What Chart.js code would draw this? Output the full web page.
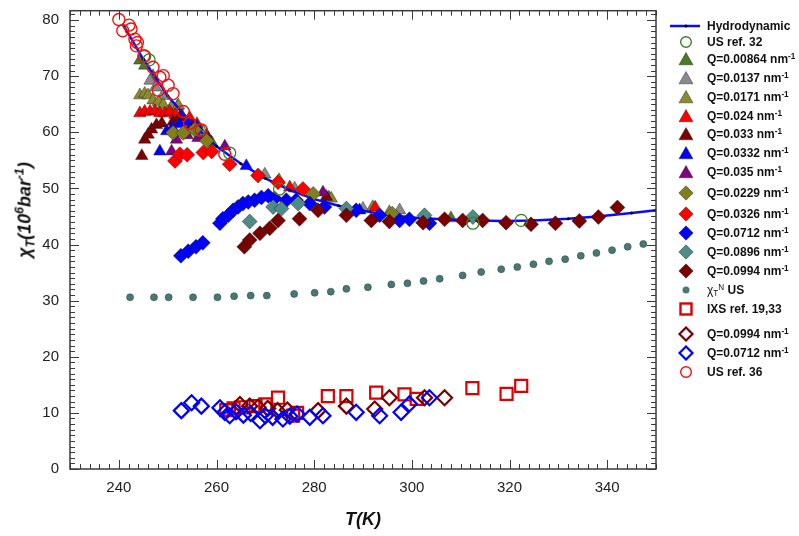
<!DOCTYPE html>
<html>
<head>
<meta charset="utf-8">
<script src="https://cdn.jsdelivr.net/npm/chart.js@4.4.1/dist/chart.umd.min.js"></script>
<style>
  html, body { margin: 0; padding: 0; background: #fff; }
  #wrap { position: relative; width: 799px; height: 536px; font-family: "Liberation Sans", Arial, sans-serif; }
  #yTitle { position: absolute; left: 25px; top: 210px; transform: translate(-50%, -50%) rotate(-90deg);
    font: bold italic 18px "Liberation Sans", Arial, sans-serif; white-space: nowrap; color: #111; }
  #yTitle sup, .lg sup { font-size: 68%; vertical-align: 0.55em; line-height: 0; }
  #yTitle sub, .lg sub { font-size: 68%; vertical-align: -0.3em; line-height: 0; }
  .lg { position: absolute; left: 670px; height: 16px; margin-top: -8px; display: flex; align-items: center;
    font: bold 12px "Liberation Sans", Arial, sans-serif; color: #111; white-space: nowrap; }
  .lg svg { width: 34px; height: 16px; flex: none; margin-right: 3px; }
</style>
</head>
<body>
<div id="wrap">
  <canvas id="c" width="799" height="536"></canvas>
  <div id="yTitle">&chi;<sub>T</sub>(10<sup>6</sup>bar<sup>-1</sup>)</div>
  <div id="legend"></div>
</div>
<script>
// ---- data (T in K, chi_T in 1e6 bar^-1) ----
var xTicks = [240, 260, 280, 300, 320, 340];
var yTicks = [0, 10, 20, 30, 40, 50, 60, 70, 80];

var hydrodynamic = [[241,79.0],[245,73.0],[250,66.5],[255,61.5],[260,57.5],[265,54.4],[270,51.8],[275,49.7],
  [280,48.1],[285,46.9],[290,46.0],[295,45.3],[300,44.8],[306,44.5],[312,44.3],[319,44.2],[325,44.3],
  [332,44.6],[338,45.0],[345,45.6],[350,46.1]];
var usRef32 = [[245.3,73.6],[246.2,72.9],[256.5,60.4],[262.7,56.3],[272.9,49.9],[312.5,43.8],[322.4,44.3]];
var q00864 = [[244.3,72.8],[245.3,71.9],[247.0,70.0],[252.0,64.6],[259.0,58.2],[283.0,48.4],[308.0,44.7]];
var q0137 = [[246.4,69.2],[247.5,68.0],[249.0,66.5],[253.0,62.8],[257.0,59.8],[269.9,52.5],[276.0,50.0],[290.0,46.4],[297.5,46.1]];
var q0171 = [[244.3,66.6],[245.3,66.9],[246.0,66.6],[247.0,65.7],[248.1,65.4],[249.1,64.9],[250.8,64.6],[252.2,64.8],
  [272.8,51.5],[283.5,48.2],[292.0,46.7],[295.4,45.8]];
var q024 = [[244.3,63.4],[245.3,63.7],[246.4,63.7],[247.4,63.8],[248.4,63.4],[249.4,63.4],[250.4,63.7],[251.5,63.1],
  [253.0,62.7],[254.5,62.6],[256.0,61.5],[275.0,50.2],[292.5,46.6]];
var q033 = [[244.7,55.8],[245.3,58.7],[246.0,59.6],[246.7,60.5],[247.7,61.3],[248.8,61.6],[251.1,61.9],[252.5,62.8],
  [255.0,61.4],[258.0,59.5],[282.5,48.5]];
var q0332 = [[248.4,56.6],[249.8,60.2],[251.0,60.8],[252.5,61.5],[254.0,61.8],[256.0,61.0],[266.1,54.0],[289.3,46.1],[296.0,45.0]];
var q035 = [[250.8,56.6],[251.8,58.7],[254.0,59.5],[256.2,59.0],[258.0,59.0],[261.7,57.5],[281.8,49.3]];
var q0229 = [[251.1,59.9],[253.2,59.9],[255.5,60.5],[258.0,58.5],[279.8,49.0],[296.0,45.5]];
var q0326 = [[251.5,54.9],[252.5,56.1],[254.0,56.0],[257.3,56.4],[259.0,56.6],[262.7,54.3],[268.5,52.3],[272.6,51.1],[277.7,49.9]];
var q0712 = [[252.7,38.0],[254.2,38.8],[255.8,39.6],[257.2,40.3],[260.7,43.8],[261.3,44.6],[262.4,45.2],[263.4,46.1],
  [264.4,46.7],[265.4,47.3],[266.5,47.6],[267.8,47.9],[269.2,48.4],[270.6,48.7],[271.9,48.2],[274.3,47.9],[276.3,47.9],
  [279.1,47.3],[282.1,46.7],[288.6,46.1],[293.4,45.2],[297.5,44.3],[299.5,44.5],[303.6,43.8]];
var q0896 = [[266.8,44.1],[271.6,46.7],[273.3,46.4],[276.7,47.3],[286.6,46.4],[302.6,45.2],[312.5,44.9]];
var q0994 = [[265.7,39.6],[266.8,40.8],[268.9,42.0],[270.9,42.9],[272.6,44.3],[277.0,44.6],[280.8,46.1],[286.6,45.2],
  [291.7,44.3],[295.4,44.1],[302.3,43.9],[306.7,44.5],[310.4,44.3],[314.5,44.3],[319.3,43.9],[324.4,43.6],[329.4,43.8],
  [334.3,44.2],[338.2,44.9],[342.1,46.6]];
var chiN = [[242.3,30.6],[247.2,30.6],[250.2,30.6],[255.2,30.6],[260.2,30.6],[263.6,30.8],[267.0,30.9],[270.3,30.9],
  [275.9,31.2],[280.1,31.4],[283.4,31.6],[286.6,32.1],[291.0,32.4],[295.8,32.9],[299.1,33.1],[302.4,33.5],[305.7,33.9],
  [310.4,34.5],[314.2,35.1],[318.3,35.6],[321.6,36.0],[324.9,36.5],[328.1,37.0],[331.4,37.4],[334.6,38.0],[337.8,38.5],
  [341.0,39.0],[344.2,39.6],[347.4,40.1]];
var ixs = [[262.0,10.5],[263.5,10.8],[265.0,11.0],[268.0,11.2],[270.0,11.5],[272.6,12.7],[275.7,9.5],[276.5,10.0],
  [282.8,13.0],[286.6,13.0],[292.7,13.6],[298.5,13.3],[301.0,12.5],[312.4,14.4],[319.4,13.4],[322.4,14.8]];
var q0994open = [[264.8,11.5],[266.8,11.2],[268.5,11.0],[270.5,10.8],[272.5,10.4],[274.5,10.5],[280.8,10.4],[286.6,11.2],
  [292.4,10.7],[295.4,12.7],[302.6,12.7],[306.7,12.7]];
var q0712open = [[252.8,10.4],[254.9,11.8],[256.9,11.2],[260.7,10.9],[261.7,10.1],[262.7,9.5],[264.0,10.2],[265.5,9.6],
  [267.0,9.9],[268.9,8.6],[270.0,9.5],[271.5,9.2],[273.6,8.9],[275.0,9.4],[276.5,9.8],[279.1,9.2],[281.8,9.5],
  [288.6,10.1],[293.4,9.5],[297.8,10.1],[299.5,11.6],[303.6,12.7]];
var usRef36 = [[240.0,80.1],[240.8,78.1],[242.1,79.1],[242.5,78.4],[243.3,76.6],[243.6,75.4],[243.8,76.0],[245.1,73.6],
  [247.0,71.6],[248.1,67.5],[248.4,69.8],[249.1,70.1],[250.1,68.4],[251.1,66.9],[253.2,63.7],[254.5,61.6],[256.9,60.4],[261.7,56.1]];

// ---- series styles ----
var FONT = '"Liberation Sans", Arial, sans-serif';
function pts(a) { return a.map(function (p) { return { x: p[0], y: p[1] }; }); }

function filled(label, data, shape, color, r, order) {
  return { label: label, data: pts(data), pointStyle: shape, pointRadius: r, pointHoverRadius: r,
    backgroundColor: color, borderColor: "rgba(30,30,30,0.55)", borderWidth: 0.8, order: order };
}
function open(label, data, shape, color, r, w, order) {
  return { label: label, data: pts(data), pointStyle: shape, pointRadius: r, pointHoverRadius: r,
    backgroundColor: "rgba(0,0,0,0)", borderColor: color, borderWidth: w, order: order };
}

var datasets = [
  { label: "Hydrodynamic", data: pts(hydrodynamic), showLine: true, borderColor: "#0a0aff", borderWidth: 2.5,
    pointRadius: 1.5, pointBackgroundColor: "#000", pointBorderWidth: 0, order: 8 },
  open("US ref. 32", usRef32, "circle", "#3f7f22", 6, 1.3, 1),
  filled("Q=0.00864", q00864, "triangle", "#4a7a24", 7.2, 15),
  filled("Q=0.0137", q0137, "triangle", "#8a8a8a", 7.2, 14),
  filled("Q=0.0171", q0171, "triangle", "#8b8b2e", 7.2, 13),
  filled("Q=0.024", q024, "triangle", "#ff0000", 7.2, 12),
  filled("Q=0.033", q033, "triangle", "#7f0000", 7.2, 11),
  filled("Q=0.0332", q0332, "triangle", "#0000ff", 7.2, 10),
  filled("Q=0.035", q035, "triangle", "#800080", 7.2, 9),
  filled("Q=0.0229", q0229, "rectRot", "#7f7f1f", 7.5, 7),
  filled("Q=0.0326", q0326, "rectRot", "#ff0000", 7.5, 6),
  filled("Q=0.0712", q0712, "rectRot", "#0000ff", 7.5, 5),
  filled("Q=0.0896", q0896, "rectRot", "#4f8b87", 7.5, 4),
  filled("Q=0.0994", q0994, "rectRot", "#7a0000", 7.5, 3),
  { label: "chiN US", data: pts(chiN), pointStyle: "circle", pointRadius: 3.5, backgroundColor: "#4b7772",
    borderColor: "#2f4f4c", borderWidth: 0.6, order: 20 },
  open("IXS ref. 19,33", ixs, "rect", "#dd0000", 8.5, 2.2, 18),
  open("Q=0.0994 open", q0994open, "rectRot", "#7a0000", 7.5, 2.2, 17),
  open("Q=0.0712 open", q0712open, "rectRot", "#0000ff", 7.5, 2.2, 16),
  open("US ref. 36", usRef36, "circle", "#ee1111", 6, 1.4, 0)
];

// inward ticks on all four sides + frame
var frameTicks = {
  id: "frameTicks",
  afterDatasetsDraw: function (chart) {
    var c = chart.ctx, a = chart.chartArea, x = chart.scales.x, y = chart.scales.y;
    c.save();
    c.strokeStyle = "#3a3a3a";
    c.lineWidth = 1;
    c.beginPath();
    for (var t = x.min; t <= x.max + 0.001; t += 2) {
      var px = Math.round(x.getPixelForValue(t)) + 0.5;
      var len = xTicks.indexOf(t) >= 0 ? 9 : 5;
      c.moveTo(px, a.bottom); c.lineTo(px, a.bottom - len);
      c.moveTo(px, a.top); c.lineTo(px, a.top + len);
    }
    for (var v = 0; v <= y.max; v += 1) {
      var py = Math.round(y.getPixelForValue(v)) + 0.5;
      var l2 = v % 10 === 0 ? 9 : 5;
      c.moveTo(a.left, py); c.lineTo(a.left + l2, py);
      c.moveTo(a.right, py); c.lineTo(a.right - l2, py);
    }
    c.stroke();
    c.lineWidth = 1.5;
    c.strokeRect(a.left, a.top, a.right - a.left, a.bottom - a.top);
    c.restore();
  }
};

new Chart(document.getElementById("c"), {
  type: "scatter",
  data: { datasets: datasets },
  options: {
    responsive: false,
    animation: false,
    layout: { padding: { top: 5, right: 143, left: 0, bottom: 0 } },
    plugins: { legend: { display: false }, tooltip: { enabled: false } },
    scales: {
      x: {
        type: "linear", min: 230, max: 350,
        afterBuildTicks: function (s) { s.ticks = xTicks.map(function (v) { return { value: v }; }); },
        afterFit: function (s) { s.height = 67; s.paddingLeft = 0; s.paddingRight = 0; },
        grid: { display: false, drawTicks: false },
        border: { display: false },
        ticks: { font: { size: 15, family: FONT }, color: "#222", padding: 10, maxRotation: 0 },
        title: { display: true, text: "T(K)", color: "#111",
          font: { size: 18, weight: "bold", style: "italic", family: FONT }, padding: { top: 0, bottom: 5 } }
      },
      y: {
        type: "linear", min: 0, max: 81.67,
        afterBuildTicks: function (s) { s.ticks = yTicks.map(function (v) { return { value: v }; }); },
        afterFit: function (s) { s.width = 70; s.paddingTop = 0; s.paddingBottom = 0; },
        grid: { display: false, drawTicks: false },
        border: { display: false },
        ticks: { font: { size: 15, family: FONT }, color: "#222", padding: 11 }
      }
    }
  },
  plugins: [frameTicks]
});

// ---- legend (HTML so the sub/superscripts stay real text) ----
function marker(kind, color) {
  var s = '<svg viewBox="0 0 34 16">';
  if (kind === "line") s += '<line x1="0" y1="8" x2="30" y2="8" stroke="#0a0aff" stroke-width="2.5"/><circle cx="16" cy="8" r="1.6" fill="#000"/>';
  if (kind === "tri") s += '<polygon points="16,1.5 23,13.8 9,13.8" fill="' + color + '" stroke="rgba(30,30,30,0.55)" stroke-width="0.8"/>';
  if (kind === "dia") s += '<polygon points="16,0.8 23.2,8 16,15.2 8.8,8" fill="' + color + '" stroke="rgba(30,30,30,0.55)" stroke-width="0.8"/>';
  if (kind === "odia") s += '<polygon points="16,1.5 22.5,8 16,14.5 9.5,8" fill="none" stroke="' + color + '" stroke-width="2.2"/>';
  if (kind === "ocirc") s += '<circle cx="16" cy="8" r="5.3" fill="none" stroke="' + color + '" stroke-width="1.4"/>';
  if (kind === "dot") s += '<circle cx="16" cy="8" r="3.5" fill="#4b7772"/>';
  if (kind === "osq") s += '<rect x="10.5" y="2.5" width="11" height="11" fill="none" stroke="' + color + '" stroke-width="2.4"/>';
  return s + "</svg>";
}
var nm = ' nm<sup>-1</sup>';
var legendItems = [
  [25.7, "line", "", "Hydrodynamic"],
  [42.3, "ocirc", "#3f7f22", "US ref. 32"],
  [59.0, "tri", "#4a7a24", "Q=0.00864" + nm],
  [77.7, "tri", "#8a8a8a", "Q=0.0137" + nm],
  [96.7, "tri", "#8b8b2e", "Q=0.0171" + nm],
  [115.7, "tri", "#ff0000", "Q=0.024" + nm],
  [134.3, "tri", "#7f0000", "Q=0.033" + nm],
  [153.3, "tri", "#0000ff", "Q=0.0332" + nm],
  [171.7, "tri", "#800080", "Q=0.035" + nm],
  [193.3, "dia", "#7f7f1f", "Q=0.0229" + nm],
  [214.0, "dia", "#ff0000", "Q=0.0326" + nm],
  [232.7, "dia", "#0000ff", "Q=0.0712" + nm],
  [252.3, "dia", "#4f8b87", "Q=0.0896" + nm],
  [270.7, "dia", "#7a0000", "Q=0.0994" + nm],
  [290.0, "dot", "", '<span style="font-weight:normal">&chi;<sub>T</sub><sup>N</sup></span> US'],
  [309.3, "osq", "#dd0000", "IXS ref. 19,33"],
  [334.0, "odia", "#7a0000", "Q=0.0994" + nm],
  [353.3, "odia", "#0000ff", "Q=0.0712" + nm],
  [372.0, "ocirc", "#ee1111", "US ref. 36"]
];
var lg = document.getElementById("legend");
legendItems.forEach(function (it) {
  var d = document.createElement("div");
  d.className = "lg";
  d.style.top = it[0] + "px";
  d.innerHTML = marker(it[1], it[2]) + "<span>" + it[3] + "</span>";
  lg.appendChild(d);
});
</script>
</body>
</html>
